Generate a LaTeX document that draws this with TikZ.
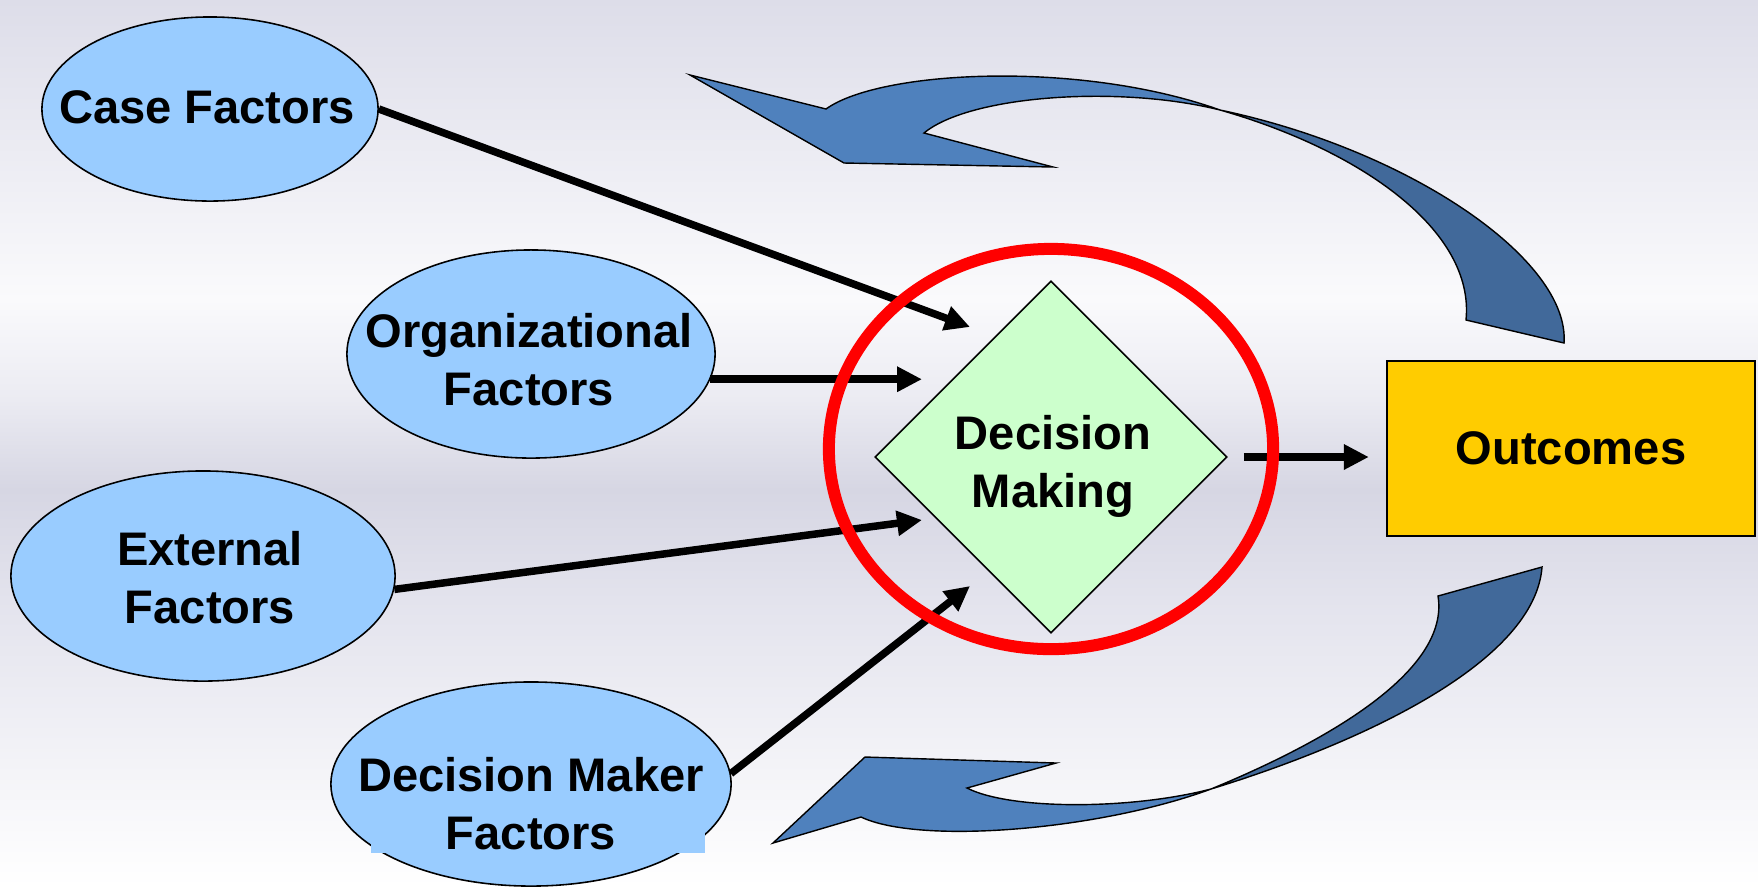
\documentclass[tikz,border=0pt]{standalone}
\usepackage{fontspec}
\setmainfont{Liberation Sans}
\usetikzlibrary{shapes.geometric,arrows.meta}
\definecolor{ovalfill}{HTML}{99CCFF}
\definecolor{decfill}{HTML}{CCFFCC}
\definecolor{outfill}{HTML}{FFCC00}
\definecolor{ringred}{HTML}{FF0000}
\definecolor{bluelight}{HTML}{4F81BD}
\definecolor{bluedark}{HTML}{41699A}
\definecolor{bgA}{HTML}{DDDDE9}
\definecolor{bgB}{HTML}{FAFAFC}
\definecolor{bgC}{HTML}{EBEBF2}
\definecolor{bgD}{HTML}{D6D6E3}
\definecolor{bgE}{HTML}{E3E3ED}
\definecolor{bgF}{HTML}{FFFFFF}
\newcommand\figfont{\fontsize{13.4}{16.5}\selectfont\bfseries}
\begin{document}
\begin{tikzpicture}[x=0.01cm,y=-0.01cm,
  oval/.style={ellipse,draw=black,line width=0.45pt,fill=ovalfill,inner sep=0pt},
  lbl/.style={align=center,font=\figfont,inner sep=0pt},
  conn/.style={line width=0.075cm,-{Triangle[length=0.25cm,width=0.24cm]}},
  ribbonlight/.style={fill=bluelight,draw=black,line width=0.4pt,line join=miter},
  ribbondark/.style={fill=bluedark,draw=black,line width=0.4pt,line join=miter}]
\useasboundingbox (0,0) rectangle (1758,887);
% background bands
\shade[top color=bgA,bottom color=bgB] (0,0) rectangle (1758,300);
\shade[top color=bgB,bottom color=bgC] (0,299) rectangle (1758,400);
\shade[top color=bgC,bottom color=bgD] (0,399) rectangle (1758,490);
\shade[top color=bgD,bottom color=bgE] (0,489) rectangle (1758,600);
\shade[top color=bgE,bottom color=bgF] (0,599) rectangle (1758,887);

% curved ribbon arrows
\filldraw[ribbonlight] (690,75) -- (844,163) -- (1053,167) -- (924,133)
  .. controls (970,95) and (1120,85) .. (1220,110)
  .. controls (1080,60) and (880,70) .. (826,109) -- cycle;
\filldraw[ribbondark] (1220,110) .. controls (1410,150) and (1570,260) .. (1564,343)
  -- (1466,320) .. controls (1475,230) and (1360,150) .. (1220,110) -- cycle;
\filldraw[ribbonlight] (773,843) -- (865,757) -- (1056,763) -- (967,788)
  .. controls (1010,810) and (1130,810) .. (1211,789)
  .. controls (1100,830) and (920,845) .. (861,817) -- cycle;
\filldraw[ribbondark] (1211,789) .. controls (1330,740) and (1450,670) .. (1438,596)
  -- (1542,567) .. controls (1535,660) and (1370,740) .. (1211,789) -- cycle;

% factor ovals
\node[oval,minimum width=3.36cm,minimum height=1.84cm] (case) at (210,109) {};
\node[lbl] (casetext) at (207,107) {Case Factors};
\node[oval,minimum width=3.68cm,minimum height=2.08cm] (org) at (531,354) {};
\node[lbl] (orgtext) at (529,360) {Organizational\\Factors};
\node[oval,minimum width=3.84cm,minimum height=2.10cm] (ext) at (203,576) {};
\node[lbl] (exttext) at (210,578) {External\\Factors};
\node[oval,minimum width=4.00cm,minimum height=2.04cm] (dm) at (531,784) {};
\fill[ovalfill] (371,740) rectangle (705,853);
\node[lbl] (dmtext) at (531,804) {Decision Maker\\Factors};

% decision diamond
\node[diamond,draw=black,line width=0.45pt,fill=decfill,minimum width=3.52cm,minimum height=3.52cm,inner sep=0pt] (dec) at (1051,457) {};
\node[lbl] (dectext) at (1053,466) {Decision\\Making};

% outcomes
\node[draw=black,line width=0.6pt,fill=outfill,minimum width=3.68cm,minimum height=1.75cm,font=\figfont] (out) at (1571,448.5) {Outcomes};

% connectors
\coordinate (tipCase) at (970,327);
\coordinate (tipOrg) at (922,378);
\coordinate (tipExt) at (922,520);
\coordinate (tipDm) at (970,586);
\draw[conn] (case.east) -- (tipCase);
\draw[conn] (org.-8) -- (org.-8 -| tipOrg);
\draw[conn] (ext.-4) -- (tipExt);
\draw[conn] (dm.3) -- (tipDm);
\draw[conn,shorten <=0.16cm,shorten >=0.17cm] (dec.east) -- (dec.east -| out.west);

% red focus ring on top
\node[ellipse,draw=ringred,line width=0.12cm,minimum width=4.44cm,minimum height=4.00cm,inner sep=0pt] (focus) at (1051,449) {};
\end{tikzpicture}
\end{document}
